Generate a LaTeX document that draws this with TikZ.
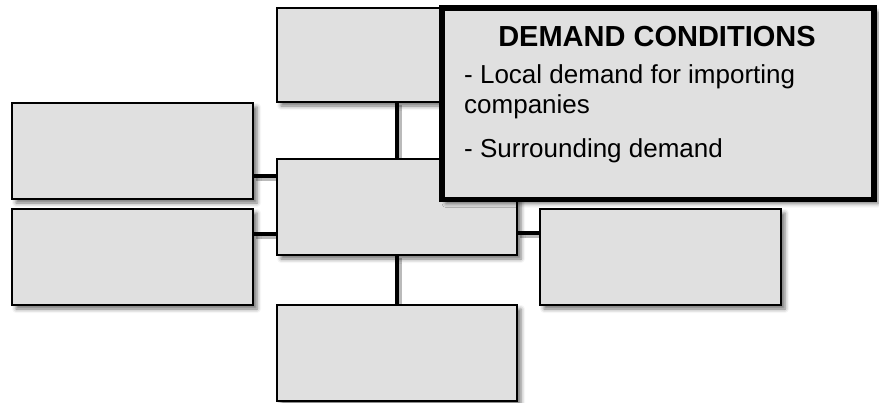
\documentclass[tikz,border=0pt]{standalone}
\usepackage{fontspec}
\setmainfont{Liberation Sans}
\usetikzlibrary{shadows.blur}

\definecolor{boxfill}{HTML}{E0E0E0}

\tikzset{
  factor/.style={draw=black, line width=2pt, fill=boxfill, rectangle,
    inner sep=0pt, outer sep=0pt,
    blur shadow={shadow xshift=4pt, shadow yshift=-4pt,
      shadow blur radius=4pt, shadow opacity=55}},
  focus/.style={factor, line width=5.5pt},
  link/.style={draw=black, line width=4.8pt},
  linkshadow/.style={draw=black!45, line width=4.8pt, opacity=0.6},
  bodytext/.style={anchor=base west, inner sep=0pt,
    font=\fontsize{26}{30}\selectfont},
  titletext/.style={anchor=base, inner sep=0pt,
    font=\bfseries\fontsize{29}{34}\selectfont}
}

\begin{document}
\begin{tikzpicture}[x=1pt, y=-1pt]
  \useasboundingbox (0,0) rectangle (879,402);

  % coordinates for the box centres (connectors are drawn first, boxes on top)
  \coordinate (topc) at (397,55);
  \coordinate (cenc) at (397,207);

  % connectors with their soft offset shadows
  \begin{scope}[shift={(3,3)}]
    \draw[linkshadow] (397,102) -- (397,159);
    \draw[linkshadow] (397,255) -- (397,305);
    \draw[linkshadow] (253,176) -- (277,176);
    \draw[linkshadow] (253,234) -- (277,234);
    \draw[linkshadow] (517,233) -- (540,233);
  \end{scope}

  % the outer factor boxes
  \node[factor, minimum width=240pt, minimum height=94pt] (top) at (topc) {};
  \node[factor, minimum width=241pt, minimum height=96pt] (left1) at (132.5,151) {};
  \node[factor, minimum width=241pt, minimum height=96pt] (left2) at (132.5,257) {};
  \node[factor, minimum width=241pt, minimum height=96pt] (right) at (660.5,257) {};
  \node[factor, minimum width=240pt, minimum height=96pt] (bottom) at (397,353) {};

  % links between the boxes
  \draw[link] (top.south) -- (top.south |- 0,159);
  \draw[link] (bottom.north |- 0,255) -- (bottom.north);
  \draw[link] ([yshift=-25pt]left1.east) -- ++(24,0) coordinate (l1end);
  \draw[link] ([yshift=23pt]left2.east) -- ++(24,0) coordinate (l2end);
  \draw[link] ([yshift=24pt]right.west) -- ++(-23,0) coordinate (rend);

  % central box
  \node[factor, minimum width=240pt, minimum height=96pt] (center) at (cenc) {};

  % highlighted box: demand conditions
  \node[focus, minimum width=432pt, minimum height=191.5pt] (demand) at (658,103.75) {};
  \node[titletext] (dtitle) at (657,46) {DEMAND CONDITIONS};
  \node[bodytext] (dline1) at (464,83) {- Local demand for importing};
  \node[bodytext] (dline2) at (464,113) {companies};
  \node[bodytext] (dline3) at (464,157) {- Surrounding demand};
\end{tikzpicture}
\end{document}
